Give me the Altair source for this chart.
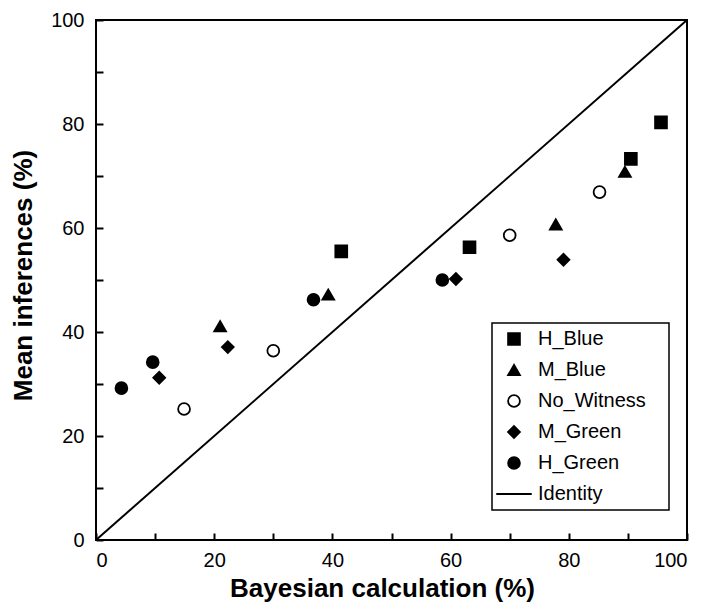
import altair as alt
import pandas as pd

# ---- data ----
series_names = ["H_Blue", "M_Blue", "No_Witness", "M_Green", "H_Green"]
hb_x = [41.5, 63.2, 90.5, 95.6]
hb_y = [55.5, 56.3, 73.3, 80.3]
mb_x = [21.0, 39.3, 77.8, 89.5]
mb_y = [41.1, 47.2, 60.7, 70.8]
nw_x = [14.9, 30.0, 70.0, 85.2]
nw_y = [25.2, 36.4, 58.6, 66.9]
mg_x = [10.7, 22.3, 60.9, 79.1]
mg_y = [31.2, 37.1, 50.2, 53.9]
hg_x = [4.3, 9.6, 36.8, 58.6]
hg_y = [29.2, 34.2, 46.2, 50.0]
identity_x = [0, 100]
identity_y = [0, 100]
label_ticks = [0, 20, 40, 60, 80, 100]
minor_ticks = [0, 10, 20, 30, 40, 50, 60, 70, 80, 90, 100]

xs = [hb_x, mb_x, nw_x, mg_x, hg_x]
ys = [hb_y, mb_y, nw_y, mg_y, hg_y]
rows = []
for name, sx, sy in zip(series_names, xs, ys):
    for a, b in zip(sx, sy):
        rows.append({"series": name, "x": a, "y": b})
pts = pd.DataFrame(rows)
ident = pd.DataFrame({"x": identity_x, "y": identity_y})

legend_domain = series_names + ["Identity"]
shape_range = ["square", "triangle-up", "circle", "diamond", "circle", "M-3,0L3,0"]
fill_range = ["black", "black", "white", "black", "black", "black"]
stroke_range = ["black"] * 6

FONT = "Liberation Sans"
xscale = alt.Scale(domain=[0, 100], nice=False, zero=False)
yscale = alt.Scale(domain=[0, 100], nice=False, zero=False)

legend = alt.Legend(
    title=None, orient="none", legendX=396, legendY=303,
    strokeColor="black", padding=6, fillColor="white",
    labelFont=FONT, labelFontSize=20, labelColor="black",
    labelExpr="datum.label + '\u00a0\u00a0\u00a0\u200b'",
    symbolSize=140, symbolStrokeColor="black", symbolStrokeWidth=1.8,
    rowPadding=11, labelOffset=14, symbolOffset=6,
)

points = alt.Chart(pts).mark_point(
    filled=True, size=140, strokeWidth=1.8, opacity=1
).encode(
    x=alt.X("x:Q", scale=xscale, axis=alt.Axis(
        orient="bottom", values=label_ticks, ticks=False, tickSize=0, domain=False, grid=False,
        labelFont=FONT, labelFontSize=20, labelColor="black", labelPadding=10,
        title="Bayesian calculation (%)", titleFont=FONT, titleFontSize=26,
        titleFontWeight="bold", titleColor="black", titleX=286, titleY=56,
        titleAlign="center", titleBaseline="alphabetic")),
    y=alt.Y("y:Q", scale=yscale, axis=alt.Axis(
        orient="left", values=label_ticks, ticks=False, tickSize=0, domain=False, grid=False,
        labelFont=FONT, labelFontSize=20, labelColor="black", labelPadding=12,
        title="Mean inferences (%)", titleFont=FONT, titleFontSize=26,
        titleFontWeight="bold", titleColor="black", titleX=-64.5, titleY=255,
        titleAngle=270, titleAlign="center", titleBaseline="alphabetic")),
    shape=alt.Shape("series:N", scale=alt.Scale(domain=legend_domain, range=shape_range), legend=legend),
    fill=alt.Fill("series:N", scale=alt.Scale(domain=legend_domain, range=fill_range), legend=legend),
    stroke=alt.Stroke("series:N", scale=alt.Scale(domain=legend_domain, range=stroke_range), legend=legend),
)

line = alt.Chart(ident).mark_line(color="black", strokeWidth=2).encode(
    x=alt.X("x:Q", scale=xscale, axis=alt.Axis(
        orient="top", offset=-520, values=minor_ticks, labels=False, ticks=True,
        tickSize=7, tickWidth=2, tickColor="black", domain=False, grid=False, title=None)),
    y=alt.Y("y:Q", scale=yscale, axis=alt.Axis(
        orient="right", offset=-591, values=minor_ticks, labels=False, ticks=True,
        tickSize=7, tickWidth=2, tickColor="black", domain=False, grid=False, title=None)),
)

chart = alt.layer(line, points).resolve_axis(x="independent", y="independent").properties(
    width=591, height=520,
    autosize=alt.AutoSizeParams(type="none"),
    padding={"left": 88, "top": 12, "right": 7, "bottom": 62},
    background="white",
).configure_view(stroke="black", strokeWidth=2).configure_legend(strokeWidth=1.5)

chart.save("out.html", embed_options={"renderer": "svg", "actions": False})
